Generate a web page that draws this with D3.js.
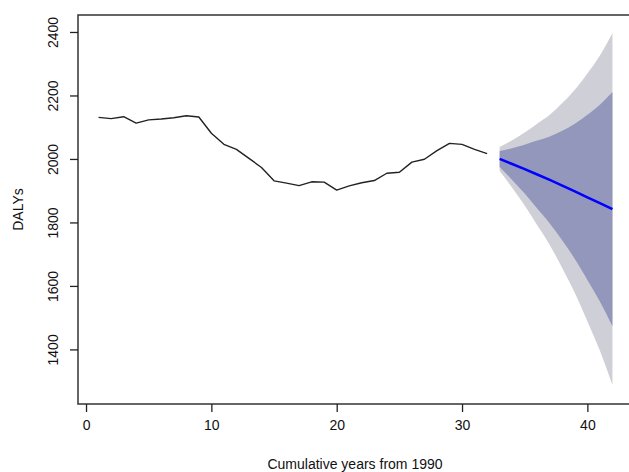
<!DOCTYPE html>
<html lang="en">
<head>
<meta charset="UTF-8" />
<title>DALYs forecast</title>
<style>
  body { margin: 0; background: #fff; }
  svg { display: block; }
  text { font-family: "Liberation Sans", Arial, sans-serif; fill: #111; }
</style>
</head>
<body>
<svg width="629" height="472"></svg>
<script src="https://d3js.org/d3.v7.min.js"></script>
<script>
  // observed series, years 1..32 from 1990
  const histYears = d3.range(1, 33);
  const histValues = [2131, 2127, 2133, 2113, 2123, 2126, 2130, 2136, 2132, 2081,
                      2046, 2030, 2002, 1973, 1931, 1924, 1916, 1928, 1927, 1902,
                      1915, 1925, 1932, 1955, 1958, 1990, 1999, 2026, 2049, 2046,
                      2030, 2017];

  // forecast, years 33..42
  const fcYears = d3.range(33, 43);
  const fcMean = [2000, 1984, 1968, 1951, 1934, 1916, 1898, 1879, 1861, 1842];
  const lo80 = [1975, 1934, 1891, 1844, 1797, 1743, 1685, 1619, 1551, 1473];
  const hi80 = [2025, 2034, 2045, 2058, 2071, 2089, 2111, 2139, 2171, 2211];
  const lo95 = [1962, 1909, 1853, 1791, 1729, 1656, 1578, 1489, 1396, 1288];
  const hi95 = [2038, 2059, 2083, 2111, 2139, 2176, 2218, 2269, 2326, 2396];

  const xTicks = [0, 10, 20, 30, 40];
  const yTicks = [1400, 1600, 1800, 2000, 2200, 2400];

  const svg = d3.select("svg");
  const plotL = 78, plotR = 633, plotT = 15, plotB = 404;
  const fontSize = 14;

  const x = d3.scaleLinear().domain([-0.64, 43.64]).range([plotL, plotR]);
  const y = d3.scaleLinear().domain([1228, 2453.5]).range([plotB, plotT]);

  const fc = fcYears.map((t, i) => ({ t, m: fcMean[i], l80: lo80[i], h80: hi80[i], l95: lo95[i], h95: hi95[i] }));

  // bands
  svg.append("path")
    .datum(fc)
    .attr("fill", "#cfcfd7")
    .attr("d", d3.area().curve(d3.curveMonotoneX).x(d => x(d.t)).y0(d => y(d.l95)).y1(d => y(d.h95)));

  svg.append("path")
    .datum(fc)
    .attr("fill", "#9297bb")
    .attr("d", d3.area().curve(d3.curveMonotoneX).x(d => x(d.t)).y0(d => y(d.l80)).y1(d => y(d.h80)));

  svg.append("path")
    .datum(fc)
    .attr("fill", "none")
    .attr("stroke", "#0000ff")
    .attr("stroke-width", 2.5)
    .attr("d", d3.line().x(d => x(d.t)).y(d => y(d.m)));

  // observed line
  svg.append("path")
    .datum(histYears.map((t, i) => [t, histValues[i]]))
    .attr("fill", "none")
    .attr("stroke", "#222")
    .attr("stroke-width", 1.4)
    .attr("stroke-linejoin", "round")
    .attr("d", d3.line().x(d => x(d[0])).y(d => y(d[1])));

  // box
  svg.append("rect")
    .attr("x", plotL).attr("y", plotT)
    .attr("width", plotR - plotL).attr("height", plotB - plotT)
    .attr("fill", "none").attr("stroke", "#333").attr("stroke-width", 1.5);

  // x axis
  const xAxis = svg.append("g").attr("transform", `translate(0,${plotB})`)
    .call(d3.axisBottom(x).tickValues(xTicks).tickFormat(d3.format("d"))
      .tickSize(8).tickSizeOuter(0).tickPadding(8));
  xAxis.select(".domain").remove();
  xAxis.selectAll("line").attr("stroke", "#222").attr("stroke-width", 1.3);
  xAxis.selectAll("text").attr("font-size", fontSize).attr("fill", "#111")
    .attr("font-family", "'Liberation Sans', Arial, sans-serif");

  // y axis
  const yAxis = svg.append("g").attr("transform", `translate(${plotL},0)`)
    .call(d3.axisLeft(y).tickValues(yTicks).tickFormat(d3.format("d"))
      .tickSize(8).tickSizeOuter(0));
  yAxis.select(".domain").remove();
  yAxis.selectAll("line").attr("stroke", "#222").attr("stroke-width", 1.3);
  yAxis.selectAll("text")
    .attr("font-size", fontSize).attr("fill", "#111")
    .attr("font-family", "'Liberation Sans', Arial, sans-serif")
    .attr("x", null).attr("dy", null)
    .attr("text-anchor", "middle")
    .attr("transform", `translate(${58 - plotL},0) rotate(-90)`);

  // axis titles
  svg.append("text")
    .attr("x", 355).attr("y", 469)
    .attr("text-anchor", "middle")
    .attr("font-size", fontSize)
    .text("Cumulative years from 1990");

  svg.append("text")
    .attr("transform", `translate(23,${(plotT + plotB) / 2}) rotate(-90)`)
    .attr("text-anchor", "middle")
    .attr("font-size", fontSize)
    .text("DALYs");
</script>
</body>
</html>
